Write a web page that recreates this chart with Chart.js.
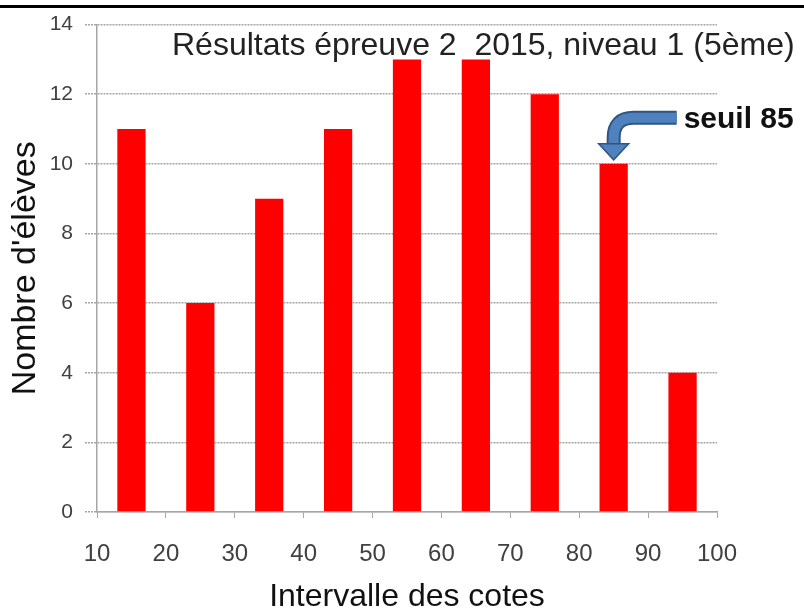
<!DOCTYPE html>
<html>
<head>
<meta charset="utf-8">
<script src="https://cdn.jsdelivr.net/npm/chart.js@4.4.0/dist/chart.umd.min.js"></script>
<style>
  html, body { margin: 0; padding: 0; background: #fff; }
  canvas { display: block; }
</style>
</head>
<body>
<canvas id="grafico" width="804" height="613"></canvas>
<script>
// valeurs
const centres = [15, 25, 35, 45, 55, 65, 75, 85, 95];
const eleves = [11, 6, 9, 11, 13, 13, 12, 10, 4];
const ticksX = [10, 20, 30, 40, 50, 60, 70, 80, 90, 100];
const ticksY = [0, 2, 4, 6, 8, 10, 12, 14];
const titre = 'Résultats épreuve 2  2015, niveau 1 (5ème)';
const seuil = 85;
const seuilTexte = 'seuil 85';

const police = 'Arial, "Liberation Sans", sans-serif';

const decor = {
  id: 'decor',
  afterDraw(chart) {
    const ctx = chart.ctx;
    const x = chart.scales.x;
    const y = chart.scales.y;
    ctx.save();
    // trait noir en haut
    ctx.fillStyle = '#000';
    ctx.fillRect(0, 5, chart.width, 3);

    // titre dans la zone du graphique
    ctx.fillStyle = '#222';
    ctx.font = '32px ' + police;
    ctx.textBaseline = 'alphabetic';
    ctx.fillText(titre, 172, 55);

    // fleche vers la barre du seuil
    const idx = centres.indexOf(seuil);
    const tx = x.getPixelForValue(seuil);
    const ty = y.getPixelForValue(eleves[idx]) - 4;
    const path = () => {
      ctx.beginPath();
      ctx.moveTo(tx + 63, ty - 42);
      ctx.lineTo(tx + 20, ty - 42);
      ctx.quadraticCurveTo(tx, ty - 42, tx, ty - 22);
      ctx.lineTo(tx, ty - 14);
    };
    ctx.lineCap = 'butt';
    ctx.strokeStyle = '#2f5588';
    ctx.lineWidth = 14;
    path();
    ctx.stroke();
    ctx.strokeStyle = '#4f81bd';
    ctx.lineWidth = 10;
    path();
    ctx.stroke();
    ctx.beginPath();
    ctx.moveTo(tx - 15, ty - 16);
    ctx.lineTo(tx + 15, ty - 16);
    ctx.lineTo(tx, ty);
    ctx.closePath();
    ctx.fillStyle = '#4f81bd';
    ctx.fill();
    ctx.strokeStyle = '#2f5588';
    ctx.lineWidth = 1.5;
    ctx.stroke();

    ctx.fillStyle = '#111';
    ctx.font = 'bold 30px ' + police;
    ctx.fillText(seuilTexte, tx + 70, ty - 32);
    ctx.restore();
  },
};

const grille = {
  color: '#a6a6a6',
  lineWidth: 1.5,
};

new Chart(document.getElementById('grafico'), {
  type: 'bar',
  data: {
    datasets: [
      {
        label: "Nombre d'élèves",
        data: centres.map((c, i) => ({ x: c, y: eleves[i] })),
        backgroundColor: '#ff0000',
        borderWidth: 0,
        categoryPercentage: 1,
        barPercentage: 0.41,
      },
    ],
  },
  options: {
    responsive: false,
    animation: false,
    layout: { padding: { top: 24, right: 87, left: 0, bottom: 0 } },
    plugins: {
      legend: { display: false },
      tooltip: { enabled: false },
    },
    scales: {
      x: {
        type: 'linear',
        min: ticksX[0],
        max: ticksX[ticksX.length - 1],
        offset: false,
        afterFit(scale) { scale.height = 101; },
        afterBuildTicks(scale) { scale.ticks = ticksX.map((v) => ({ value: v })); },
        grid: {
          offset: false,
          drawOnChartArea: false,
          drawTicks: true,
          tickLength: 6,
          color: grille.color,
          lineWidth: 1,
        },
        border: { color: grille.color, width: 1.5, dash: [2, 1] },
        ticks: {
          color: '#404040',
          font: { family: police, size: 24 },
          padding: 22,
          maxRotation: 0,
          autoSkip: false,
        },
        title: {
          display: true,
          text: 'Intervalle des cotes',
          color: '#111',
          font: { family: police, size: 32, lineHeight: 1 },
          padding: { top: 0, bottom: 0 },
        },
      },
      y: {
        min: ticksY[0],
        max: ticksY[ticksY.length - 1],
        afterFit(scale) { scale.width = 97; },
        afterBuildTicks(scale) { scale.ticks = ticksY.map((v) => ({ value: v })); },
        grid: {
          color: grille.color,
          lineWidth: 1.5,
          tickLength: 12,
          tickBorderDash: [2, 1],
        },
        border: { color: grille.color, width: 1.5, dash: [2, 1] },
        ticks: {
          color: '#404040',
          font: { family: police, size: 21 },
          padding: 12,
        },
        title: {
          display: true,
          text: "Nombre d'élèves",
          color: '#111',
          font: { family: police, size: 34, lineHeight: 1 },
          padding: { top: 9, bottom: 0 },
        },
      },
    },
  },
  plugins: [decor],
});
</script>
</body>
</html>
